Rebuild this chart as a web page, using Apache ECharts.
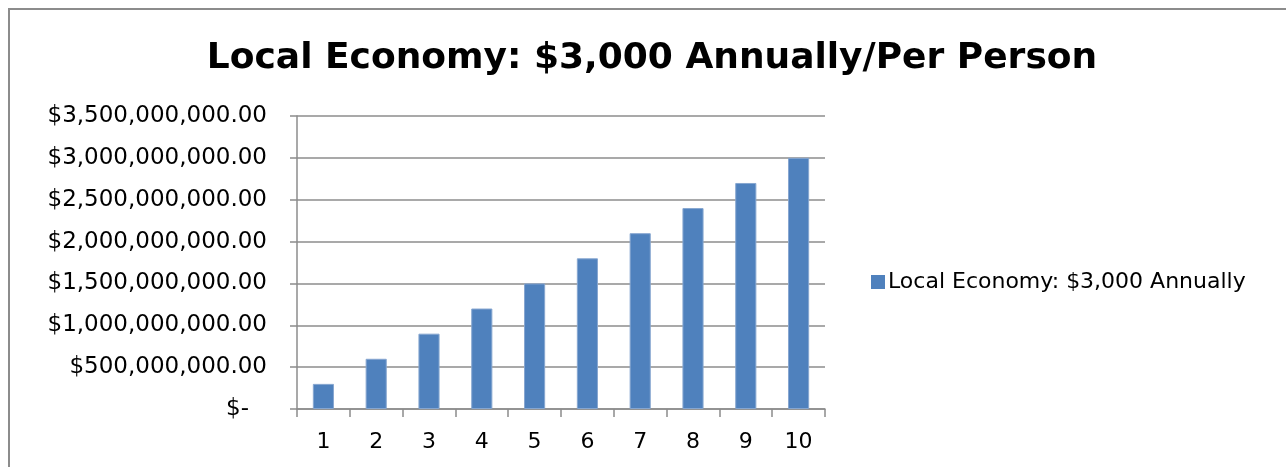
<!DOCTYPE html>
<html>
<head>
<meta charset="utf-8">
<script src="https://cdn.jsdelivr.net/npm/echarts@6/dist/echarts.min.js"></script>
<style>
  html, body { margin: 0; padding: 0; background: #ffffff; }
  #chart { width: 1286px; height: 467px; }
</style>
</head>
<body>
<div id="chart"></div>
<script>
// Years 1..10 and the cumulative local spending they represent
const categories = ['1', '2', '3', '4', '5', '6', '7', '8', '9', '10'];
const seriesName = 'Local Economy: $3,000 Annually';
const values = [300000000, 600000000, 900000000, 1200000000, 1500000000,
                1800000000, 2100000000, 2400000000, 2700000000, 3000000000];
const titleText = 'Local Economy: $3,000 Annually/Per Person';

const FONT = '"DejaVu Sans", sans-serif';
const GRAY = '#8c8c8c';

function money(v) {
  if (v === 0) return '{z|$-}';
  return '$' + v.toLocaleString('en-US', { minimumFractionDigits: 2, maximumFractionDigits: 2 });
}

const chart = echarts.init(document.getElementById('chart'), null, { renderer: 'canvas' });
chart.setOption({
  backgroundColor: '#ffffff',
  animation: false,
  title: {
    text: titleText,
    left: 647,
    textAlign: 'center',
    top: 36,
    textStyle: { fontFamily: FONT, fontSize: 36, fontWeight: 'bold', color: '#000000' }
  },
  graphic: [{
    type: 'polyline',
    shape: { points: [[9, 467], [9, 9], [1286, 9]] },
    style: { stroke: GRAY, lineWidth: 2, fill: null },
    silent: true
  }],
  legend: {
    left: 866,
    top: 266,
    orient: 'vertical',
    icon: 'rect',
    itemWidth: 14,
    itemHeight: 14,
    itemGap: 6,
    itemStyle: { borderWidth: 0 },
    textStyle: { fontFamily: FONT, fontSize: 22, color: '#000000', padding: [0, 0, 0, -2] },
    data: [seriesName]
  },
  grid: { left: 297, right: 461, top: 116, bottom: 58, containLabel: false },
  xAxis: {
    type: 'category',
    data: categories,
    boundaryGap: true,
    axisLine: { lineStyle: { color: GRAY, width: 1.5 } },
    axisTick: { show: true, inside: false, length: 8, alignWithLabel: false, lineStyle: { color: GRAY, width: 1.5 } },
    axisLabel: { fontFamily: FONT, fontSize: 22, color: '#000000', margin: 22 }
  },
  yAxis: {
    type: 'value',
    min: 0,
    max: 3500000000,
    interval: 500000000,
    axisLine: { show: true, lineStyle: { color: GRAY, width: 1.5 } },
    axisTick: { show: true, inside: false, length: 7, lineStyle: { color: GRAY, width: 1.5 } },
    splitLine: { show: true, lineStyle: { color: GRAY, width: 1.5 } },
    axisLabel: {
      fontFamily: FONT, fontSize: 23, color: '#000000', margin: 30,
      formatter: money,
      rich: { z: { fontFamily: FONT, fontSize: 23, color: '#000000', padding: [0, 18, 0, 0] } }
    }
  },
  series: [{
    name: seriesName,
    type: 'bar',
    data: values,
    barWidth: '40%',
    itemStyle: { color: '#4f81bd', borderColor: '#86a6d0', borderWidth: 1 }
  }]
});
</script>
</body>
</html>
